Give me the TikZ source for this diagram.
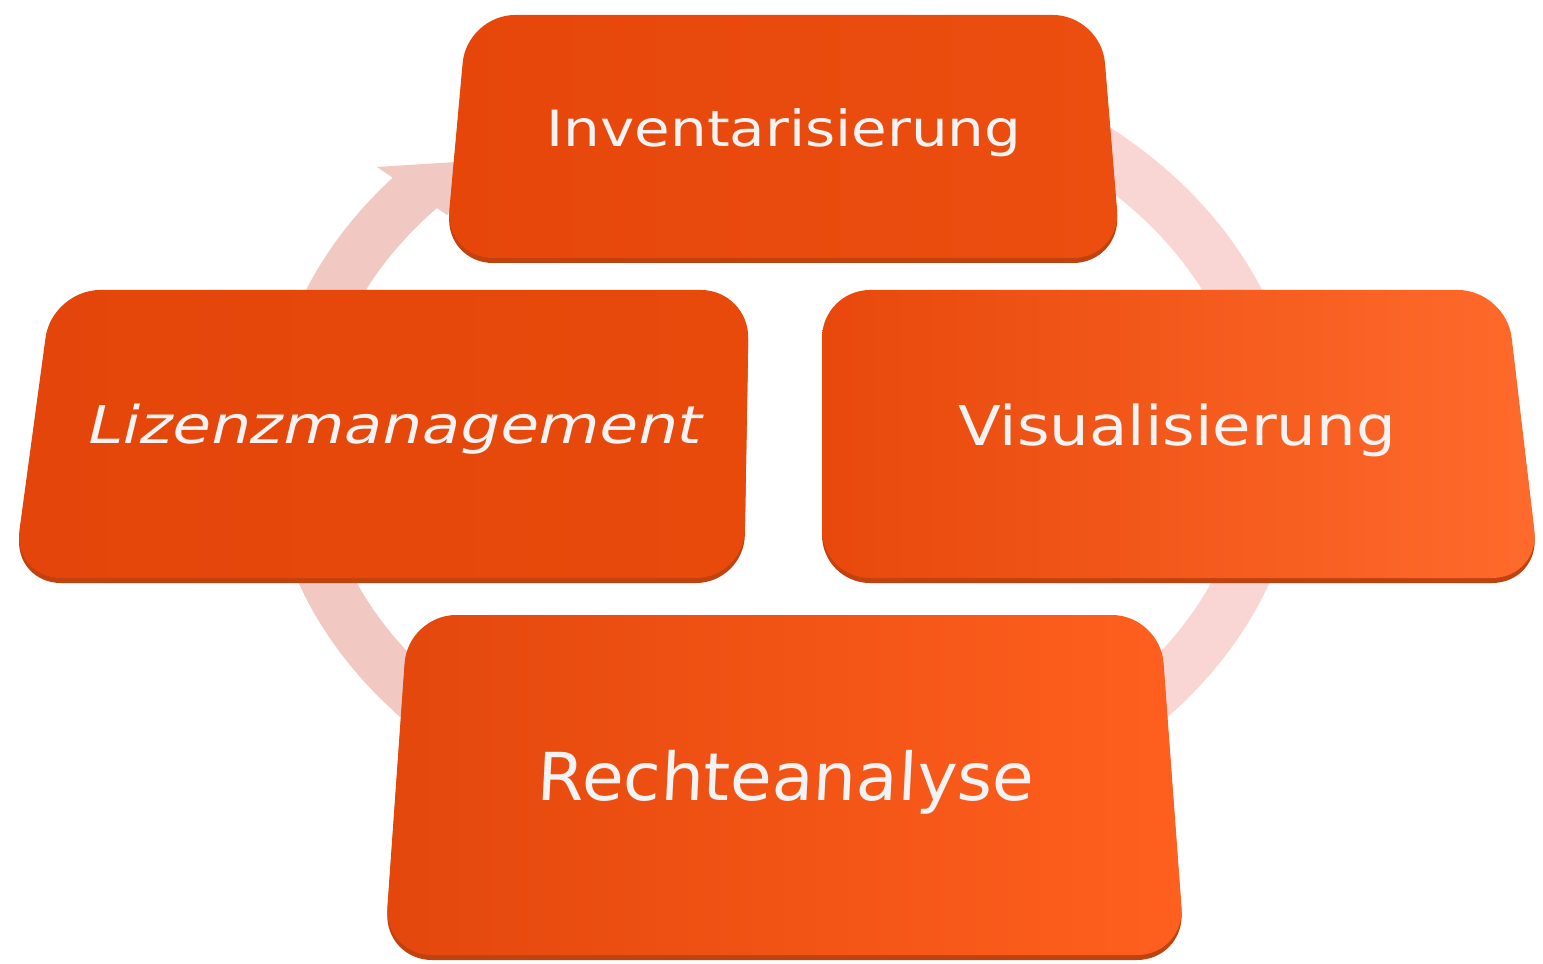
\documentclass[tikz,border=0pt]{standalone}
\usepackage{fontspec}
\setmainfont{DejaVu Sans}
\usetikzlibrary{calc}

\definecolor{ringL}{HTML}{F1C8C2}
\definecolor{ringR}{HTML}{F9D6D3}
\definecolor{lip}{HTML}{C0420E}
\definecolor{txt}{HTML}{F3F3F3}
\definecolor{invL}{HTML}{E6460A}
\definecolor{invR}{HTML}{EC4E10}
\definecolor{lizL}{HTML}{E4450A}
\definecolor{lizR}{HTML}{E84A0C}
\definecolor{visL}{HTML}{E8480C}
\definecolor{visR}{HTML}{FF6B2C}
\definecolor{rechL}{HTML}{E4470C}
\definecolor{rechR}{HTML}{FF601F}

% rounded trapezoid tile: corners tl, tr, br, bl, left colour, right colour
\newcommand{\tile}[6]{%
  \fill[lip,rounded corners=0.48cm] ($#1+(0,5)$) -- ($#2+(0,5)$) -- ($#3+(0,5)$) -- ($#4+(0,5)$) -- cycle;
  \shade[left color=#5,right color=#6,rounded corners=0.48cm] #1 -- #2 -- #3 -- #4 -- cycle;}

\begin{document}
\begin{tikzpicture}[x=0.01cm,y=-0.01cm]
\tikzstyle{tiletext}=[text=txt,inner sep=0pt,anchor=base]
\useasboundingbox (0,0) rectangle (1543,964);
% cycle ring behind the tiles
\draw[ringR,line width=0.52cm] (784,444) ++(300:490 and 382)
    arc[start angle=300,end angle=450,x radius=490,y radius=382];
\draw[ringL,line width=0.52cm] (784,444) ++(450:490 and 382)
    arc[start angle=450,end angle=582,x radius=490,y radius=382];
\fill[ringL] (377,167) -- (488,160) -- (447,215) -- cycle;
% tiles
\tile{(467,15)}{(1101,15)}{(1121,258)}{(445,258)}{invL}{invR}
\tile{(52,290)}{(749,290)}{(744,578)}{(13,578)}{lizL}{lizR}
\tile{(822,290)}{(1506,290)}{(1540,578)}{(822,578)}{visL}{visR}
\tile{(408,615)}{(1160,615)}{(1185,955)}{(384,955)}{rechL}{rechR}
% labels
\node[tiletext,font=\fontsize{14.2}{16}\selectfont,xscale=1.16] (inv) at (784,147) {Inventarisierung};
\node[tiletext,font=\fontsize{14.8}{17}\selectfont,xscale=1.2,xslant=0.2] (liz) at (392,443) {Lizenzmanagement};
\node[tiletext,font=\fontsize{15.6}{18}\selectfont,xscale=1.14] (vis) at (1177,445) {Visualisierung};
\node[tiletext,font=\fontsize{18.8}{21}\selectfont,xscale=1.025,xslant=0.05] (rech) at (785,800) {Rechteanalyse};
\end{tikzpicture}
\end{document}
